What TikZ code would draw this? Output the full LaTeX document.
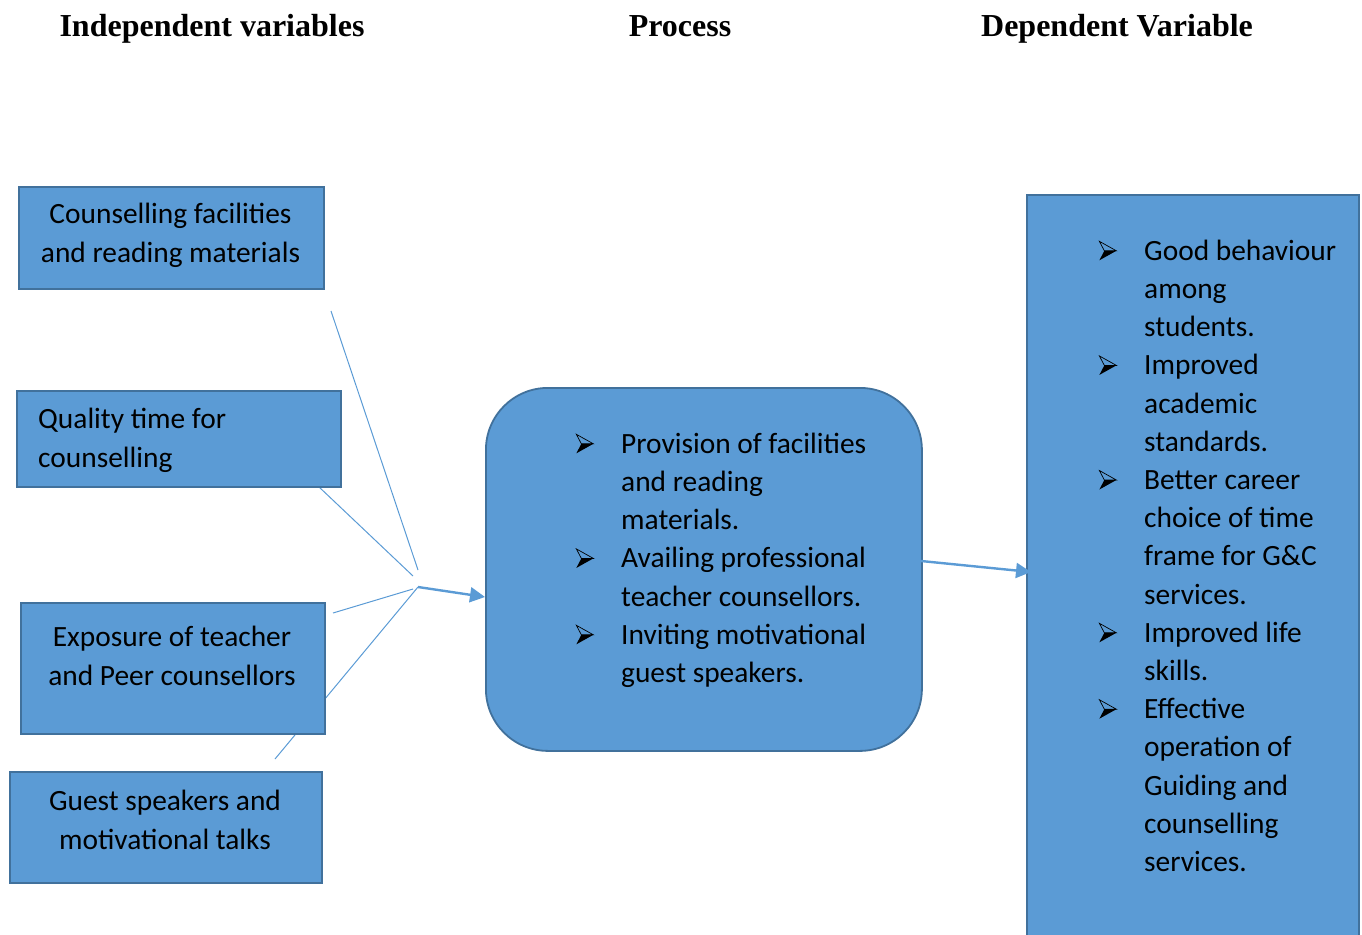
\documentclass[tikz,border=0pt]{standalone}
\usepackage{fontspec}
\setmainfont{Carlito}
\newfontfamily\headfont{Liberation Serif}
\usetikzlibrary{arrows.meta}
\definecolor{boxfill}{HTML}{5B9BD5}
\definecolor{boxline}{HTML}{41719C}
\newcommand{\bul}{\llap{\tikz[baseline=0pt,x=1pt,y=1pt,line width=0.7pt,line join=miter]{%
  \draw[black] (0,19)--(17,9.5)--(5,9.5)--cycle;
  \fill[black] (5,9.5)--(17,9.5)--(0,0)--cycle;}\hspace{27.5pt}}}
\begin{document}
\begin{tikzpicture}[x=1pt,y=-1pt,
  shapebox/.style={draw=boxline,fill=boxfill,line width=1.8pt,inner sep=0pt,anchor=north west},
  body/.style={font=\fontsize{29.4}{38.2}\selectfont,inner sep=0pt,align=center,anchor=base},
  bodyleft/.style={font=\fontsize{29.4}{38.2}\selectfont,inner sep=0pt,align=left,anchor=base west},
  head/.style={font=\headfont\bfseries\fontsize{32}{36}\selectfont,inner sep=0pt,anchor=base},
  thinline/.style={draw=boxfill,line width=1pt},
  thickarrow/.style={draw=boxfill,line width=2.4pt,-{Triangle[length=15pt,width=15pt]}}]
\useasboundingbox (0,0) rectangle (1362,934);

% headings
\node[head] (h1) at (212,37) {Independent variables};
\node[head] (h2) at (680,37) {Process};
\node[head] (h3) at (1117,37) {Dependent Variable};

% junction coordinates
\coordinate (s1) at (331,311);
\coordinate (e1) at (418,570);
\coordinate (s2) at (318,486);
\coordinate (e2) at (413,576);
\coordinate (s3) at (333,613);
\coordinate (e3) at (413,589);
\coordinate (s4) at (275,759);
\coordinate (j) at (418,587);

% thin lines behind boxes
\draw[thinline] (s1) -- (e1);
\draw[thinline] (s2) -- (e2);
\draw[thinline] (s3) -- (e3);
\draw[thinline] (s4) -- (j);

% left boxes
\node[shapebox,minimum width=305pt,minimum height=102pt] (b1) at (18,186) {};
\node[shapebox,minimum width=324pt,minimum height=96pt] (b2) at (16,390) {};
\node[shapebox,minimum width=304pt,minimum height=131pt] (b3) at (20,602) {};
\node[shapebox,minimum width=312pt,minimum height=111pt] (b4) at (9,771) {};

% (anchor base = baseline of the last line)
\node[body] (t1) at (170.5,262) {Counselling facilities\\and reading materials};
\node[bodyleft] (t2) at (38,467) {Quality time for\\counselling};
\node[body] (t3) at (172,685) {Exposure of teacher\\and Peer counsellors};
\node[body] (t4) at (165,849) {Guest speakers and\\motivational talks};

% process box
\node[shapebox,rounded corners=62pt,minimum width=436pt,minimum height=363pt] (p) at (485,387) {};
\node[bodyleft] (pt) at (621,682.5) {\bul Provision of facilities\\and reading\\materials.\\\bul Availing professional\\teacher counsellors.\\\bul Inviting motivational\\guest speakers.};

% dependent box
\node[shapebox,minimum width=332pt,minimum height=760pt] (d) at (1026,194) {};
\node[bodyleft] (dt) at (1144,871.5) {\bul Good behaviour\\among\\students.\\\bul Improved\\academic\\standards.\\\bul Better career\\choice of time\\frame for G\&C\\services.\\\bul Improved life\\skills.\\\bul Effective\\operation of\\Guiding and\\counselling\\services.};

% arrows
\draw[thickarrow] (j) -- (p.west |- 0,597);
\draw[thickarrow] (921,561) coordinate (pa) -- (1031,572) coordinate (da);
\end{tikzpicture}
\end{document}
